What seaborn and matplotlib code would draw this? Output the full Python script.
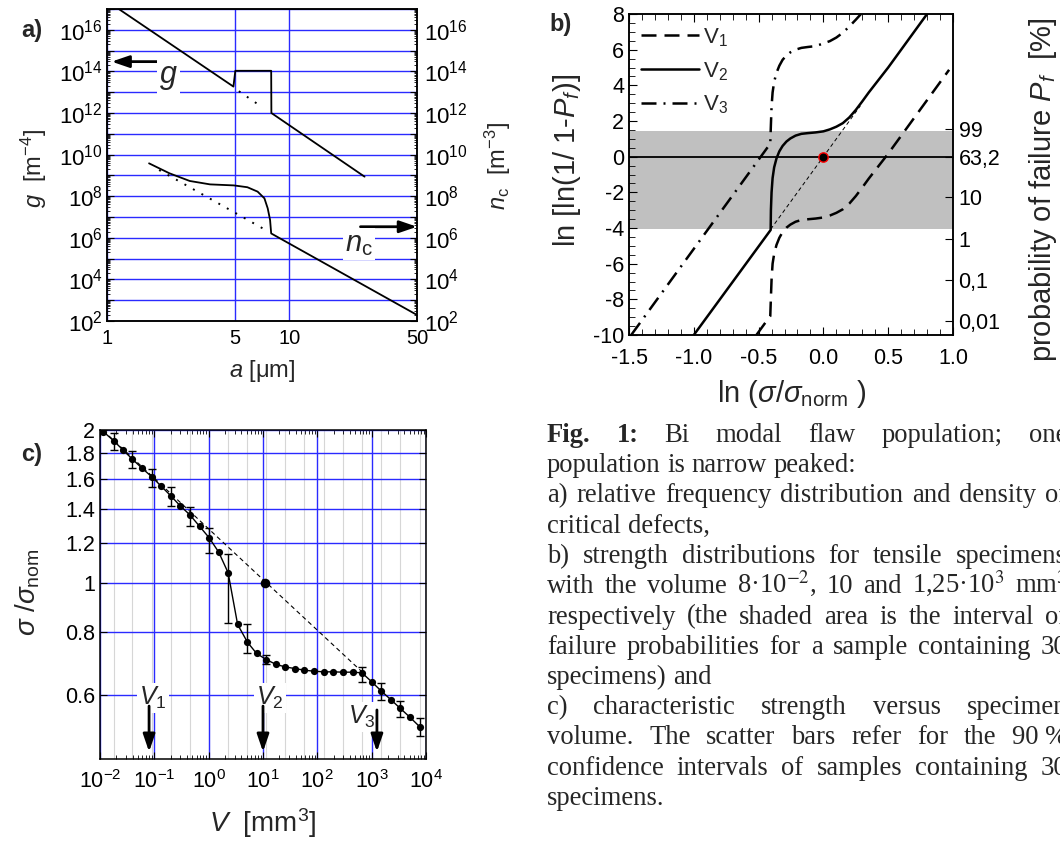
import numpy as np
import matplotlib
matplotlib.use("Agg")
import matplotlib.pyplot as plt
import seaborn as sns
from matplotlib.lines import Line2D
from matplotlib.ticker import (FixedLocator, FixedFormatter, LogLocator, NullLocator,
                               NullFormatter, MultipleLocator, FormatStrFormatter, FuncFormatter)

# ---------------- data: panel a ----------------
g_a = [1.16, 4.93, 5.05, 7.94, 7.96, 25.8]
g_val = [1.0e17, 1.86e13, 1.07e14, 1.07e14, 1.0e12, 8.7e8]
g_dot_a = [5.28, 6.98]
g_dot_val = [1.12e13, 2.09e12]
nc_a = [1.70, 2.20, 2.84, 3.67, 4.96, 5.88, 6.69, 7.29, 7.60, 7.83, 7.94, 50.0]
nc_val = [3.8e9, 1.26e9, 5.4e8, 3.7e8, 3.3e8, 2.7e8, 1.66e8, 7.9e7, 2.6e7, 7.2e6, 1.62e6, 1.95e2]
nc_dot_a = [1.93, 7.13]
nc_dot_val = [1.82e9, 2.85e6]
a_ticks = [1, 5, 10, 50]
a_ticklabels = ["1", "5", "10", "50"]

# ---------------- data: panel b ----------------
v2_x = [-1.00, -0.407, -0.405, -0.400, -0.392, -0.380, -0.362, -0.340, -0.315, -0.285, -0.255,
        -0.215, -0.17, -0.12, -0.06, 0.0, 0.05, 0.10, 0.15, 0.20, 0.25, 0.30, 0.35, 0.50, 0.80]
v2_y = [-10.0, -4.11, -3.0, -2.0, -1.2, -0.6, -0.1, 0.3, 0.6, 0.85, 1.02,
        1.18, 1.28, 1.32, 1.36, 1.42, 1.53, 1.68, 1.88, 2.2, 2.62, 3.1, 3.6, 5.0, 8.0]
v1_x = [-0.517, -0.45, -0.41, -0.405, -0.400, -0.392, -0.380, -0.362, -0.340, -0.315, -0.285,
        -0.255, -0.215, -0.17, -0.12, -0.06, 0.0, 0.05, 0.10, 0.15, 0.20, 0.25, 0.30, 0.35, 0.50, 0.97]
v1_y = [-10.0, -9.33, -8.94, -7.9, -6.9, -6.0, -5.45, -4.95, -4.55, -4.23, -3.98,
        -3.81, -3.65, -3.55, -3.51, -3.47, -3.41, -3.3, -3.15, -2.95, -2.63, -2.21, -1.73, -1.23, 0.17, 4.87]
v3_x = [-1.483, -0.41, -0.405, -0.400, -0.392, -0.380, -0.362, -0.340, -0.315, -0.285, -0.255,
        -0.215, -0.17, -0.12, -0.06, 0.0, 0.05, 0.10, 0.15, 0.20, 0.25, 0.29]
v3_y = [-10.0, 0.73, 1.8, 2.8, 3.6, 4.2, 4.7, 5.1, 5.43, 5.68, 5.85,
        6.0, 6.1, 6.15, 6.2, 6.35, 6.48, 6.68, 6.95, 7.3, 7.68, 8.0]
ref_x = [-0.407, 0.285]
ref_y = [-4.07, 2.85]
band_lo, band_hi = -4.08, 1.43
pf_percent = [99, 63.2, 10, 1, 0.1, 0.01]
pf_labels = ["99", "63,2", "10", "1", "0,1", "0,01"]
legend_labels = ["V$_1$", "V$_2$", "V$_3$"]

# ---------------- data: panel c ----------------
c_V = [0.01153, 0.01778, 0.02618, 0.03917, 0.05848, 0.08872, 0.1327, 0.1986, 0.2965, 0.4498,
       0.6823, 1.021, 1.528, 2.280, 3.412, 5.176, 7.621, 11.56, 17.30, 25.82,
       38.64, 57.81, 86.30, 130.9, 195.9, 293.1, 444.6, 663.7, 993.1, 1486,
       2249, 3365, 5035, 7638]
c_s = [1.985, 1.905, 1.829, 1.753, 1.684, 1.619, 1.551, 1.485, 1.419, 1.361,
       1.291, 1.226, 1.149, 1.046, 0.827, 0.763, 0.725, 0.705, 0.690, 0.682,
       0.677, 0.672, 0.669, 0.667, 0.667, 0.666, 0.666, 0.664, 0.638, 0.612,
       0.588, 0.565, 0.543, 0.520]
err_idx = [1, 3, 5, 7, 9, 11, 13, 15, 17, 27, 29, 31, 33]
err_lo = [1.829, 1.684, 1.547, 1.419, 1.291, 1.144, 0.833, 0.725, 0.691, 0.638, 0.587, 0.544, 0.499]
err_hi = [1.970, 1.816, 1.676, 1.547, 1.409, 1.281, 1.137, 0.828, 0.720, 0.682, 0.635, 0.584, 0.540]
c_dash_V = [0.0115, 664.0]
c_dash_s = [1.994, 0.667]
c_norm_V = [11.0]
c_norm_s = [1.0]
c_yticks = [0.6, 0.8, 1.0, 1.2, 1.4, 1.6, 1.8, 2.0]
c_yticklabels = ["0.6", "0.8", "1", "1.2", "1.4", "1.6", "1.8", "2"]
arrow_V = [0.08, 10.0, 1250.0]
arrow_top = [0.571, 0.571, 0.561]
arrow_bot = [0.464, 0.464, 0.464]
vlab_V = [0.095, 13.5, 668.0]
vlab_s = [0.592, 0.592, 0.543]
vlab_txt = ["$V_1$", "$V_2$", "$V_3$"]

# ---------------- caption ----------------
caption_lines = [
    "Fig. 1: Bi modal flaw population; one",
    "population is narrow peaked:",
    "a) relative frequency distribution and density of",
    "critical defects,",
    "b) strength distributions for tensile specimens",
    "with the volume 8\u00b710$^{-2}$, 10 and 1,25\u00b710$^{3}$ mm$^{3}$",
    "respectively (the shaded area is the interval of",
    "failure probabilities for a sample containing 30",
    "specimens) and",
    "c) characteristic strength versus specimen",
    "volume. The scatter bars refer for the 90\u00a0%",
    "confidence intervals of samples containing 30",
    "specimens.",
]
caption_justify = [True, False, True, False, True, True, True, True, False, True, True, True, False]

# ---------------- style ----------------
sns.set_style("ticks")
plt.rcParams.update({
    "font.family": ["Liberation Sans", "DejaVu Sans"],
    "mathtext.fontset": "custom",
    "mathtext.rm": "Liberation Sans",
    "mathtext.it": "Liberation Sans:italic",
    "mathtext.bf": "Liberation Sans:bold",
    "axes.unicode_minus": False,
    "axes.linewidth": 1.1,
    "axes.edgecolor": "black",
    "xtick.direction": "in",
    "ytick.direction": "in",
    "xtick.color": "black",
    "ytick.color": "black",
    "xtick.major.size": 5,
    "ytick.major.size": 5,
    "xtick.minor.size": 2.5,
    "ytick.minor.size": 2.5,
    "axes.axisbelow": True,
})

W, H = 1060, 841
fig = plt.figure(figsize=(W / 100, H / 100), dpi=100)
fig.patch.set_facecolor("white")


def rect(l, t, r, b):
    return [l / W, 1 - b / H, (r - l) / W, (b - t) / H]


def ftext(x, y, s, **kw):
    return fig.text(x / W, 1 - y / H, s, **kw)


BLUE = "#2a2aff"

# ================= panel a =================
axA = fig.add_axes(rect(107, 9, 417, 321))
axA.set_xscale("log")
axA.set_yscale("log")
sns.lineplot(x=g_a, y=g_val, ax=axA, color="k", lw=1.3, sort=False, estimator=None)
sns.lineplot(x=g_dot_a, y=g_dot_val, ax=axA, color="k", lw=1.4, linestyle=(0, (1, 4)),
             sort=False, estimator=None)
sns.lineplot(x=nc_a, y=nc_val, ax=axA, color="k", lw=1.3, sort=False, estimator=None)
sns.lineplot(x=nc_dot_a, y=nc_dot_val, ax=axA, color="k", lw=1.4, linestyle=(0, (1, 4)),
             sort=False, estimator=None)
axA.set_xlim(1, 50)
axA.set_ylim(1e2, 1e17)
decades = [10.0 ** k for k in range(2, 18)]
axA.yaxis.set_major_locator(FixedLocator(decades))
axA.yaxis.set_minor_locator(LogLocator(base=10, subs=np.arange(2, 10), numticks=40))
axA.yaxis.set_minor_formatter(NullFormatter())


def even_dec(v, p):
    k = int(round(np.log10(v)))
    return r"$\mathdefault{10^{%d}}$" % k if k % 2 == 0 else ""


axA.yaxis.set_major_formatter(FuncFormatter(even_dec))
axA.xaxis.set_major_locator(FixedLocator(a_ticks))
axA.xaxis.set_major_formatter(FixedFormatter(a_ticklabels))
axA.xaxis.set_minor_locator(NullLocator())
axA.grid(True, which="major", color=BLUE, lw=1.0)
axA.tick_params(axis="y", labelsize=16, pad=3)
axA.tick_params(axis="x", labelsize=14.5, pad=6, length=0)
axA2 = axA.twinx()
axA2.set_yscale("log")
axA2.set_ylim(1e2, 1e17)
axA2.yaxis.set_major_locator(FixedLocator(decades))
axA2.yaxis.set_minor_locator(LogLocator(base=10, subs=np.arange(2, 10), numticks=40))
axA2.yaxis.set_minor_formatter(NullFormatter())
axA2.yaxis.set_major_formatter(FuncFormatter(even_dec))
axA2.tick_params(axis="y", labelsize=16, pad=5, direction="in")
axA2.grid(False)

arrow_kw = dict(arrowstyle="-|>,head_width=0.36,head_length=1.05", color="k", lw=2.0,
                shrinkA=0, shrinkB=0, mutation_scale=10)
axA.annotate("", xy=(1.06, 2.95e14), xytext=(2.25, 2.95e14), arrowprops=arrow_kw)
axA.annotate("", xy=(50, 3.4e6), xytext=(24.5, 3.4e6), arrowprops=arrow_kw)
axA.text(2.16, 10 ** 13.72, "$g$", fontsize=22, ha="center", va="center", zorder=4,
         bbox=dict(fc="white", ec="none", pad=1.5))
axA.text(24.0, 10 ** 5.72, r"$n_{\rm c}$", fontsize=21, ha="center", va="center", zorder=4,
         bbox=dict(fc="white", ec="none", pad=1.5))

ftext(34, 168, "$g$  [m$^{-4}$]", rotation=90, ha="center", va="center", fontsize=17)
ftext(498, 166, r"$n_{\rm c}$  [m$^{-3}$]", rotation=90, ha="center", va="center", fontsize=17)
ftext(262, 371, "$a$ [\u03bcm]", ha="center", va="center", fontsize=17)
ftext(32, 31, "a)", ha="center", va="center", fontsize=17, weight="bold")

# ================= panel b =================
axB = fig.add_axes(rect(629, 14, 953, 335))
axB.axhspan(band_lo, band_hi, color="#c0c0c0", lw=0, zorder=0)
axB.axhline(0, color="k", lw=1.3, zorder=1)
sns.lineplot(x=ref_x, y=ref_y, ax=axB, color="k", lw=0.7, linestyle=(0, (4, 3)),
             sort=False, estimator=None)
sns.lineplot(x=v1_x, y=v1_y, ax=axB, color="k", lw=1.8, linestyle=(0, (6, 3.2)),
             sort=False, estimator=None)
sns.lineplot(x=v2_x, y=v2_y, ax=axB, color="k", lw=1.8, sort=False, estimator=None)
sns.lineplot(x=v3_x, y=v3_y, ax=axB, color="k", lw=1.8, linestyle=(0, (6, 2.8, 0.8, 2.8)),
             sort=False, estimator=None)
sns.scatterplot(x=[0.0], y=[0.0], ax=axB, s=45, color="k", edgecolor="red", linewidth=1.0,
                zorder=6)
axB.set_xlim(-1.5, 1.0)
axB.set_ylim(-10, 8)
axB.xaxis.set_major_locator(MultipleLocator(0.5))
axB.xaxis.set_minor_locator(MultipleLocator(0.1))
axB.xaxis.set_major_formatter(FormatStrFormatter("%.1f"))
axB.yaxis.set_major_locator(MultipleLocator(2))
axB.yaxis.set_minor_locator(MultipleLocator(0.5))
axB.tick_params(which="both", top=True, right=False, labelsize=15.5)
axB.tick_params(axis="x", pad=9)
axB.tick_params(which="major", length=6)
axB.tick_params(which="minor", length=4)
axB2 = axB.twinx()
axB2.set_ylim(-10, 8)
pf_pos = [np.log(-np.log(1 - p / 100.0)) for p in pf_percent]
axB2.yaxis.set_major_locator(FixedLocator(pf_pos))
axB2.yaxis.set_major_formatter(FixedFormatter(pf_labels))
axB2.yaxis.set_minor_locator(NullLocator())
axB2.tick_params(axis="y", direction="in", length=6, labelsize=15.5, pad=4)
axB2.grid(False)
handles = [Line2D([], [], color="k", lw=1.8, linestyle=(0, (6, 3.2))),
           Line2D([], [], color="k", lw=1.8),
           Line2D([], [], color="k", lw=1.8, linestyle=(0, (6, 2.8, 0.8, 2.8)))]
axB.legend(handles, legend_labels, loc="upper left", frameon=False, fontsize=16,
           handlelength=2.6, handletextpad=0.2, labelspacing=0.5, borderaxespad=0.2,
           borderpad=0.35)

ftext(567, 160, "ln [ln(1/ 1-$P_f$)]", rotation=90, ha="center", va="center", fontsize=21)
ftext(1043, 190, "probability of failure $P_f$  [%]", rotation=90, ha="center", va="center",
      fontsize=21)
ftext(792, 394, r"ln ($\sigma/\sigma_{\rm norm}$ )", ha="center", va="center", fontsize=21)
ftext(561, 25, "b)", ha="center", va="center", fontsize=17, weight="bold")

# ================= panel c =================
axC = fig.add_axes(rect(100, 430, 426, 759))
axC.set_xscale("log")
axC.set_yscale("log")
for v in c_V[1::2]:
    axC.axvline(v, color="#d6d6d6", lw=0.8, zorder=0.5)
sns.lineplot(x=c_dash_V, y=c_dash_s, ax=axC, color="k", lw=0.8, linestyle=(0, (4, 3)),
             sort=False, estimator=None)
sns.lineplot(x=c_V, y=c_s, ax=axC, color="k", lw=1.0, sort=False, estimator=None)
e_x = [c_V[i] for i in err_idx]
e_y = [c_s[i] for i in err_idx]
e_lo = [c_s[i] - lo for i, lo in zip(err_idx, err_lo)]
e_hi = [hi - c_s[i] for i, hi in zip(err_idx, err_hi)]
axC.errorbar(e_x, e_y, yerr=[e_lo, e_hi], fmt="none", ecolor="k", elinewidth=1.0,
             capsize=2.6, capthick=1.0, zorder=3)
sns.scatterplot(x=c_V, y=c_s, ax=axC, s=27, color="k", edgecolor="k", linewidth=0, zorder=4)
sns.scatterplot(x=c_norm_V, y=c_norm_s, ax=axC, s=48, color="k", edgecolor="k", linewidth=0,
                zorder=4)
axC.set_xlim(1e-2, 1e4)
axC.set_ylim(0.449, 2.0)
axC.xaxis.set_major_locator(LogLocator(base=10, numticks=20))
axC.xaxis.set_minor_locator(LogLocator(base=10, subs=np.arange(2, 10), numticks=40))
axC.xaxis.set_minor_formatter(NullFormatter())
axC.yaxis.set_major_locator(FixedLocator(c_yticks))
axC.yaxis.set_major_formatter(FixedFormatter(c_yticklabels))
axC.yaxis.set_minor_locator(NullLocator())
axC.grid(True, which="major", color=BLUE, lw=1.0)
axC.grid(False, which="minor")
axC.tick_params(which="both", top=True, right=True, labelsize=15.5)
axC.tick_params(axis="x", pad=8)
axC.tick_params(which="major", length=5)
axC.tick_params(which="minor", length=3)
arrow_c = dict(arrowstyle="-|>,head_width=0.36,head_length=1.05", color="k", lw=2.0,
               shrinkA=0, shrinkB=0, mutation_scale=10)
for v, t, b in zip(arrow_V, arrow_top, arrow_bot):
    axC.annotate("", xy=(v, b), xytext=(v, t), arrowprops=arrow_c, zorder=5)
for v, s, txt in zip(vlab_V, vlab_s, vlab_txt):
    axC.text(v, s, txt, fontsize=18, ha="center", va="center", zorder=4,
             bbox=dict(fc="white", ec="none", pad=1.5))

ftext(28, 592, r"$\sigma$ /$\sigma_{\rm nom}$", rotation=90, ha="center", va="center",
      fontsize=20)
ftext(263, 823, "$V$  [mm$^3$]", ha="center", va="center", fontsize=20)
ftext(32, 454, "c)", ha="center", va="center", fontsize=17, weight="bold")

# ================= caption =================
renderer = fig.canvas.get_renderer()
cap_x0, cap_x1 = 547.0, 1067.0
cap_y0, cap_dy = 442.0, 30.25
cap_fs = 19.2
space_px = 0.25 * cap_fs * 100 / 72
for i, (line, just) in enumerate(zip(caption_lines, caption_justify)):
    words = line.split(" ")
    objs = []
    for j, wd in enumerate(words):
        bold = (i == 0 and j < 2)
        t = fig.text(0, 0, wd, fontsize=cap_fs, family=["Liberation Serif", "DejaVu Serif"],
                     weight="bold" if bold else "normal", math_fontfamily="stix",
                     va="baseline", ha="left")
        objs.append(t)
    widths = [t.get_window_extent(renderer).width for t in objs]
    if just and len(objs) > 1:
        gap = (cap_x1 - cap_x0 - sum(widths)) / (len(objs) - 1)
    else:
        gap = space_px
    x = cap_x0
    yb = cap_y0 + i * cap_dy
    for t, w in zip(objs, widths):
        t.set_position((x / W, 1 - yb / H))
        x += w + gap

fig.savefig("out.png", dpi=100, facecolor="white")
